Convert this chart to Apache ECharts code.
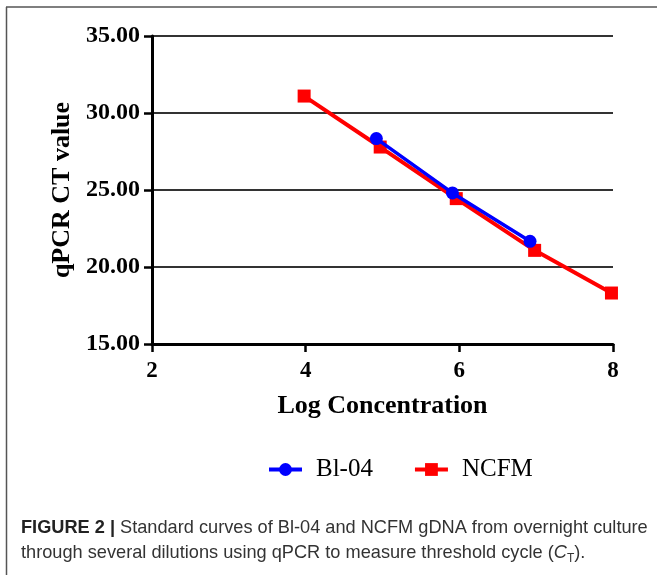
<!DOCTYPE html>
<html>
<head>
<meta charset="utf-8">
<script src="https://cdn.jsdelivr.net/npm/echarts@6/dist/echarts.min.js"></script>
<style>
  html, body { margin: 0; padding: 0; background: #fff; }
  #main { width: 657px; height: 575px; }
</style>
</head>
<body>
<div id="main"></div>
<script>
// values
const seriesNames = ['Bl-04', 'NCFM'];
const bl04X = [4.92, 5.91, 6.92];
const bl04Y = [28.34, 24.81, 21.67];
const ncfmX = [3.98, 4.97, 5.96, 6.98, 7.98];
const ncfmY = [31.1, 27.79, 24.44, 21.08, 18.31];
const xTicks = [2, 4, 6, 8];
const yTicks = [15, 20, 25, 30, 35];

const serif = 'Liberation Serif, Times New Roman, serif';
const sans = 'Liberation Sans, Arial, Helvetica, sans-serif';

function pairs(xs, ys) {
  return xs.map((x, i) => [x, ys[i]]);
}

const chart = echarts.init(document.getElementById('main'), null, {
  width: 657,
  height: 575,
  devicePixelRatio: 1
});

var option = {
  animation: false,
  backgroundColor: '#fff',
  grid: {
    left: 152,
    right: 44,
    top: 36,
    bottom: 231,
    containLabel: false
  },
  xAxis: {
    type: 'value',
    min: xTicks[0],
    max: xTicks[xTicks.length - 1],
    interval: xTicks[1] - xTicks[0],
    name: 'Log Concentration',
    nameLocation: 'middle',
    nameGap: 49,
    nameTextStyle: { fontFamily: serif, fontWeight: 'bold', fontSize: 26, color: '#000' },
    axisLine: { onZero: false, lineStyle: { color: '#000', width: 3 } },
    axisTick: { show: true, length: 8, lineStyle: { color: '#000', width: 2.5 } },
    axisLabel: { margin: 16, fontFamily: serif, fontWeight: 'bold', fontSize: 23, color: '#000' },
    splitLine: { show: false }
  },
  yAxis: {
    type: 'value',
    min: yTicks[0],
    max: yTicks[yTicks.length - 1],
    interval: yTicks[1] - yTicks[0],
    name: 'qPCR CT value',
    nameLocation: 'middle',
    nameGap: 77,
    nameTextStyle: { fontFamily: serif, fontWeight: 'bold', fontSize: 26, color: '#000' },
    axisLine: { show: true, onZero: false, lineStyle: { color: '#000', width: 3 } },
    axisTick: { show: true, length: 8, lineStyle: { color: '#000', width: 2.5 } },
    axisLabel: {
      margin: 12,
      fontFamily: serif,
      fontWeight: 'bold',
      fontSize: 24,
      color: '#000',
      formatter: v => v.toFixed(2)
    },
    splitLine: { show: true, lineStyle: { color: '#333', width: 2 } }
  },
  legend: {
    data: seriesNames,
    left: 262,
    top: 452,
    itemWidth: 33,
    itemHeight: 16,
    itemGap: 40,
    lineStyle: { width: 4 },
    textStyle: { fontFamily: serif, fontSize: 25, color: '#000', padding: [0, 0, 0, 9] }
  },
  series: [
    {
      name: 'NCFM',
      type: 'line',
      data: pairs(ncfmX, ncfmY),
      symbol: 'rect',
      symbolSize: 13,
      itemStyle: { color: '#ff0000' },
      lineStyle: { color: '#ff0000', width: 4 },
      z: 2
    },
    {
      name: 'Bl-04',
      type: 'line',
      data: pairs(bl04X, bl04Y),
      symbol: 'circle',
      symbolSize: 13,
      itemStyle: { color: '#0000ff' },
      lineStyle: { color: '#0000ff', width: 3.5 },
      z: 3
    }
  ],
  graphic: [
    { type: 'line', shape: { x1: 6, y1: 7, x2: 657, y2: 7 }, style: { stroke: '#555', lineWidth: 1.5 } },
    { type: 'line', shape: { x1: 6.5, y1: 7, x2: 6.5, y2: 575 }, style: { stroke: '#555', lineWidth: 1.5 } },
    {
      type: 'text',
      left: 21,
      top: 515,
      style: {
        text: '{b|FIGURE 2 |} Standard curves of Bl-04 and NCFM gDNA from overnight culture\n' +
              'through several dilutions using qPCR to measure threshold cycle ({i|C}{s|T}).',
        fontFamily: sans,
        fontSize: 18.2,
        lineHeight: 25,
        fill: '#333',
        rich: {
          b: { fontFamily: sans, fontSize: 18.2, fontWeight: 'bold', fill: '#222', lineHeight: 25 },
          i: { fontFamily: sans, fontSize: 18.2, fontStyle: 'italic', fill: '#333', lineHeight: 25 },
          s: { fontFamily: sans, fontSize: 12, fill: '#333', lineHeight: 14, verticalAlign: 'bottom' }
        }
      }
    }
  ]
};
chart.setOption(option);
</script>
</body>
</html>
